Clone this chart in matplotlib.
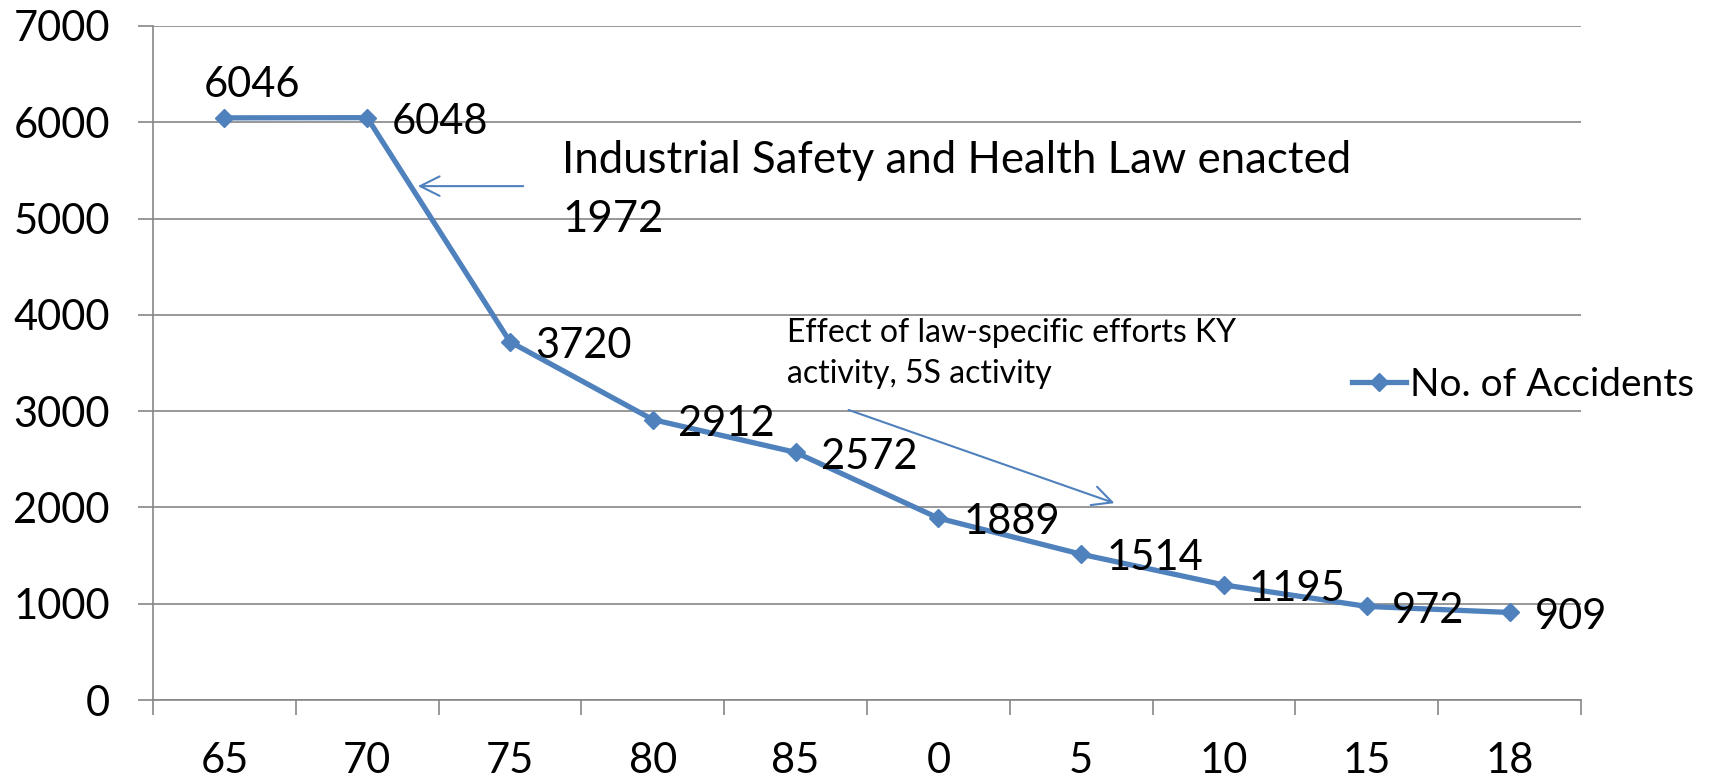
import numpy as np
import matplotlib
matplotlib.use('Agg')
from matplotlib import pyplot as plt

# Data
years = ['65', '70', '75', '80', '85', '0', '5', '10', '15', '18']
accidents = [6046, 6048, 3720, 2912, 2572, 1889, 1514, 1195, 972, 909]

blue = '#4F81BD'
grey = '#868686'

plt.rcParams['font.family'] = ['Lato', 'DejaVu Sans']

fig = plt.figure(figsize=(17.12, 7.82), dpi=100)
ax = fig.add_axes([153/1712, 1 - 700/782, (1581 - 153)/1712, (700 - 26)/782])

x = np.arange(len(years))
line, = ax.plot(x, accidents, color=blue, lw=3.8, marker='D', markersize=9,
                label='No. of Accidents', zorder=3)

# Data labels
for i, v in enumerate(accidents):
    if i == 0:
        ax.annotate(str(v), (x[i], v), xytext=(20, 24), textcoords='offset points',
                    ha='center', va='center', fontsize=30)
    else:
        ax.annotate(str(v), (x[i], v), xytext=(18, -3), textcoords='offset points',
                    ha='left', va='center', fontsize=30)

# Axes styling
ax.set_xlim(-0.5, len(years) - 0.5)
ax.set_ylim(0, 7000)
ax.set_yticks(np.arange(0, 7001, 1000))
ax.set_xticks(x)
ax.set_xticklabels(years)
ax.set_xticks(np.arange(-0.5, len(years)), minor=True)
ax.tick_params(axis='x', which='major', length=0, pad=30, labelsize=30)
ax.tick_params(axis='x', which='minor', length=11, width=1.2, color=grey)
ax.tick_params(axis='y', length=11, width=1.2, color=grey, pad=20, labelsize=30)
ax.yaxis.grid(True, color=grey, lw=1.2)
ax.set_axisbelow(True)
for s in ['top', 'right']:
    ax.spines[s].set_visible(False)
for s in ['left', 'bottom']:
    ax.spines[s].set_color(grey)
    ax.spines[s].set_linewidth(1.2)

# Annotations
ax.annotate('', xy=(1.335, 5337), xytext=(2.112, 5337),
            arrowprops=dict(arrowstyle='->', color=blue, lw=1.5, mutation_scale=35))
ax.text(2.364, 5300, 'Industrial Safety and Health Law enacted\n1972',
        fontsize=31.5, ha='left', va='center', linespacing=1.55)
ax.annotate('', xy=(6.251, 2035), xytext=(4.353, 3022),
            arrowprops=dict(arrowstyle='->', color=blue, lw=1.5, mutation_scale=35))
ax.text(3.94, 3600, 'Effect of law-specific efforts KY\nactivity, 5S activity',
        fontsize=23, ha='left', va='center', linespacing=1.45)

fig.legend(handles=[line], loc='center left', bbox_to_anchor=(1352/1712, 1 - 385/782),
           frameon=False, fontsize=28, handlelength=1.4, handletextpad=0.1,
           borderpad=0, borderaxespad=0)

fig.savefig('out.png', dpi=100)
